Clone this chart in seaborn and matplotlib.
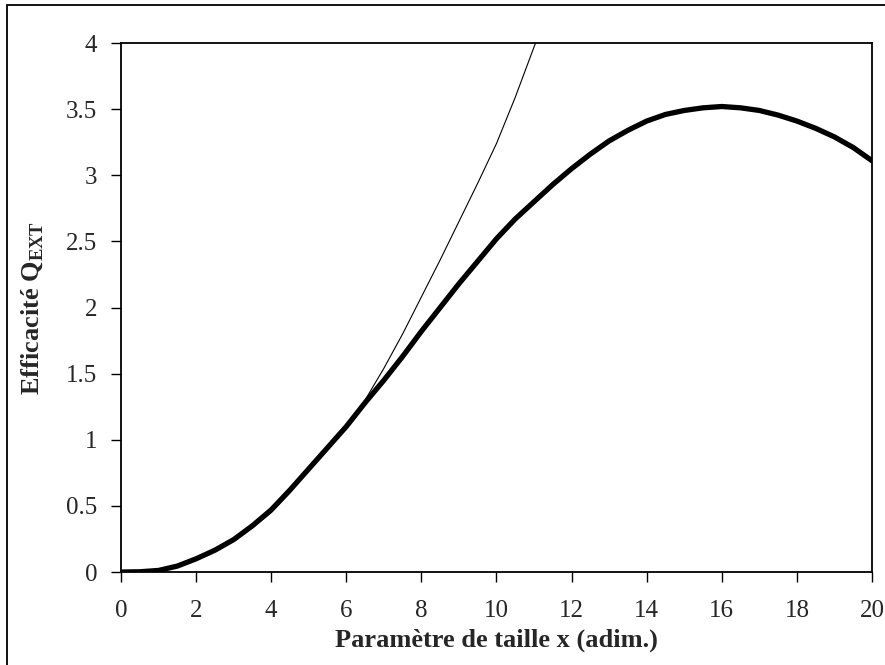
import numpy as np
import pandas as pd
import seaborn as sns
import matplotlib.pyplot as plt
from matplotlib.patches import Rectangle

# thick curve (exact efficiency)
x_exact = [0, 0.5, 1, 1.5, 2, 2.5, 3, 3.5, 4, 4.5, 5, 5.5, 6, 6.5, 7, 7.5, 8, 8.5,
           9, 9.5, 10, 10.5, 11, 11.5, 12, 12.5, 13, 13.5, 14, 14.5, 15, 15.5,
           16, 16.5, 17, 17.5, 18, 18.5, 19, 19.5, 20]
q_exact = [0, 0.002, 0.012, 0.045, 0.10, 0.165, 0.245, 0.35, 0.47, 0.62, 0.78, 0.94,
           1.10, 1.28, 1.45, 1.63, 1.82, 2.00, 2.18, 2.35, 2.52, 2.67, 2.80, 2.93,
           3.05, 3.16, 3.26, 3.34, 3.41, 3.46, 3.49, 3.51, 3.52, 3.51, 3.49, 3.455,
           3.41, 3.355, 3.29, 3.21, 3.11]

# thin curve (approximation)
x_approx = [0, 0.5, 1, 1.5, 2, 2.5, 3, 3.5, 4, 4.5, 5, 5.5, 6, 6.5, 7, 7.5, 8, 8.5,
            9, 9.5, 10, 10.5, 11, 11.2]
q_approx = [0, 0.002, 0.012, 0.045, 0.10, 0.16, 0.235, 0.335, 0.45, 0.60, 0.77, 0.93,
            1.10, 1.30, 1.54, 1.80, 2.08, 2.36, 2.65, 2.94, 3.24, 3.59, 3.97, 4.12]

sns.set_style("ticks")
plt.rcParams["font.family"] = ["Liberation Serif", "DejaVu Serif"]
plt.rcParams["mathtext.fontset"] = "custom"
plt.rcParams["mathtext.rm"] = "Liberation Serif:bold"

fig = plt.figure(figsize=(8.85, 6.65), dpi=100)
ax = fig.add_axes([0.1367, 0.1398, 0.8486, 0.7955])

df_exact = pd.DataFrame({"x": x_exact, "q": q_exact})
df_approx = pd.DataFrame({"x": x_approx, "q": q_approx})
sns.lineplot(data=df_approx, x="x", y="q", ax=ax, color="black", lw=0.8)
sns.lineplot(data=df_exact, x="x", y="q", ax=ax, color="black", lw=3.8)

ax.set_xlim(0, 20)
ax.set_ylim(0, 4)
ax.set_xticks(np.arange(0, 21, 2))
ax.set_yticks([0, 0.5, 1, 1.5, 2, 2.5, 3, 3.5, 4])
ax.set_yticklabels(["0", "0.5", "1", "1.5", "2", "2.5", "3", "3.5", "4"])
ax.tick_params(direction="out", length=7, width=1, labelsize=18, color="black")
ax.tick_params(axis="x", pad=13)
ax.tick_params(axis="y", pad=10)
for s in ax.spines.values():
    s.set_visible(True)
    s.set_linewidth(1.3)
    s.set_color("black")

ax.set_xlabel("Paramètre de taille x (adim.)", fontsize=19, fontweight="bold", labelpad=5)
ax.set_ylabel(r"Efficacité Q$_{\mathregular{EXT}}$", fontsize=19, fontweight="bold", labelpad=15)

fig.patches.append(Rectangle((7 / 885, -0.1), 1.2, (660 / 665) + 0.1,
                             transform=fig.transFigure, fill=False,
                             edgecolor="black", lw=1.3))

fig.savefig("out.png", dpi=100)
